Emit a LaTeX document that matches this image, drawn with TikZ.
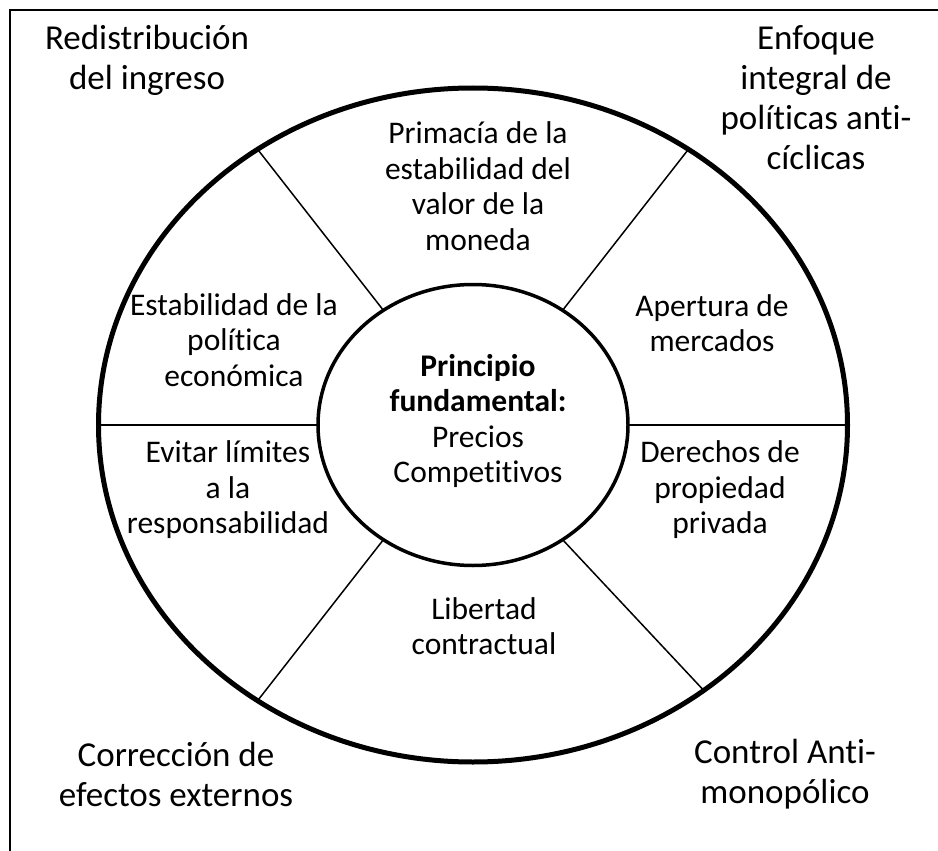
\documentclass[tikz,border=0pt]{standalone}
\usepackage{fontspec}
\setmainfont{Carlito}[Ligatures=NoCommon]
\usetikzlibrary{shapes.geometric}

\begin{document}
\begin{tikzpicture}[x=1pt,y=-1pt]
	\def\cx{473} %centre of both ellipses
	\def\cy{425}
	\useasboundingbox (0,0) rectangle (938,851);
	\tikzset{
		ring/.style={draw,ellipse,inner sep=0pt,outer sep=0pt},
		spoke/.style={line width=1.5pt},
		corner/.style={align=center,font=\fontsize{35}{40}\selectfont},
		field/.style={align=center,font=\fontsize{31.5}{35.5}\selectfont}
	}
	
	%FRAME (only top and left edges show)
	\draw[line width=2pt] (938,10) -- (10,10) -- (10,851);
	
	%ELLIPSES
	\node[ring,line width=5pt,minimum width=749pt,minimum height=674pt] (outer) at (\cx,\cy) {};
	\node[ring,line width=3.5pt,minimum width=310pt,minimum height=281pt] (inner) at (\cx,\cy) {};
	
	%SPOKES
	\draw[spoke] (outer.180) -- (inner.180);
	\draw[spoke] (outer.0) -- (inner.0);
	\draw[spoke] (outer.128) -- (inner.128); %upper left
	\draw[spoke] (outer.52) -- (inner.52); %upper right
	\draw[spoke] (outer.232) -- (inner.232); %lower left
	\draw[spoke] (outer.311) -- (inner.308); %lower right
	
	%CENTRE
	\node[field] (principio) at (478,421) {\textbf{Principio}\\\textbf{fundamental:}\\Precios\\Competitivos};
	
	%FIELDS OF THE RING
	\node[field] (primacia) at (478,186) {Primacía de la\\estabilidad del\\valor de la\\moneda};
	\node[field] (estab) at (234,340) {Estabilidad de la\\política\\económica};
	\node[field] (apertura) at (712,323) {Apertura de\\mercados};
	\node[field] (evitar) at (228,490) {Evitar límites\\a la\\responsabilidad};
	\node[field] (derechos) at (720,490) {Derechos de\\propiedad\\privada};
	\node[field] (libertad) at (484,626) {Libertad\\contractual};
	
	%CORNERS
	\node[corner] (redis) at (147,60) {Redistribución\\del ingreso};
	\node[corner] (enfoque) at (816,98) {Enfoque\\integral de\\políticas anti-\\cíclicas};
	\node[corner] (correc) at (176,774) {Corrección de\\efectos externos};
	\node[corner] (control) at (785,774) {Control Anti-\\monopólico};
\end{tikzpicture}
\end{document}
